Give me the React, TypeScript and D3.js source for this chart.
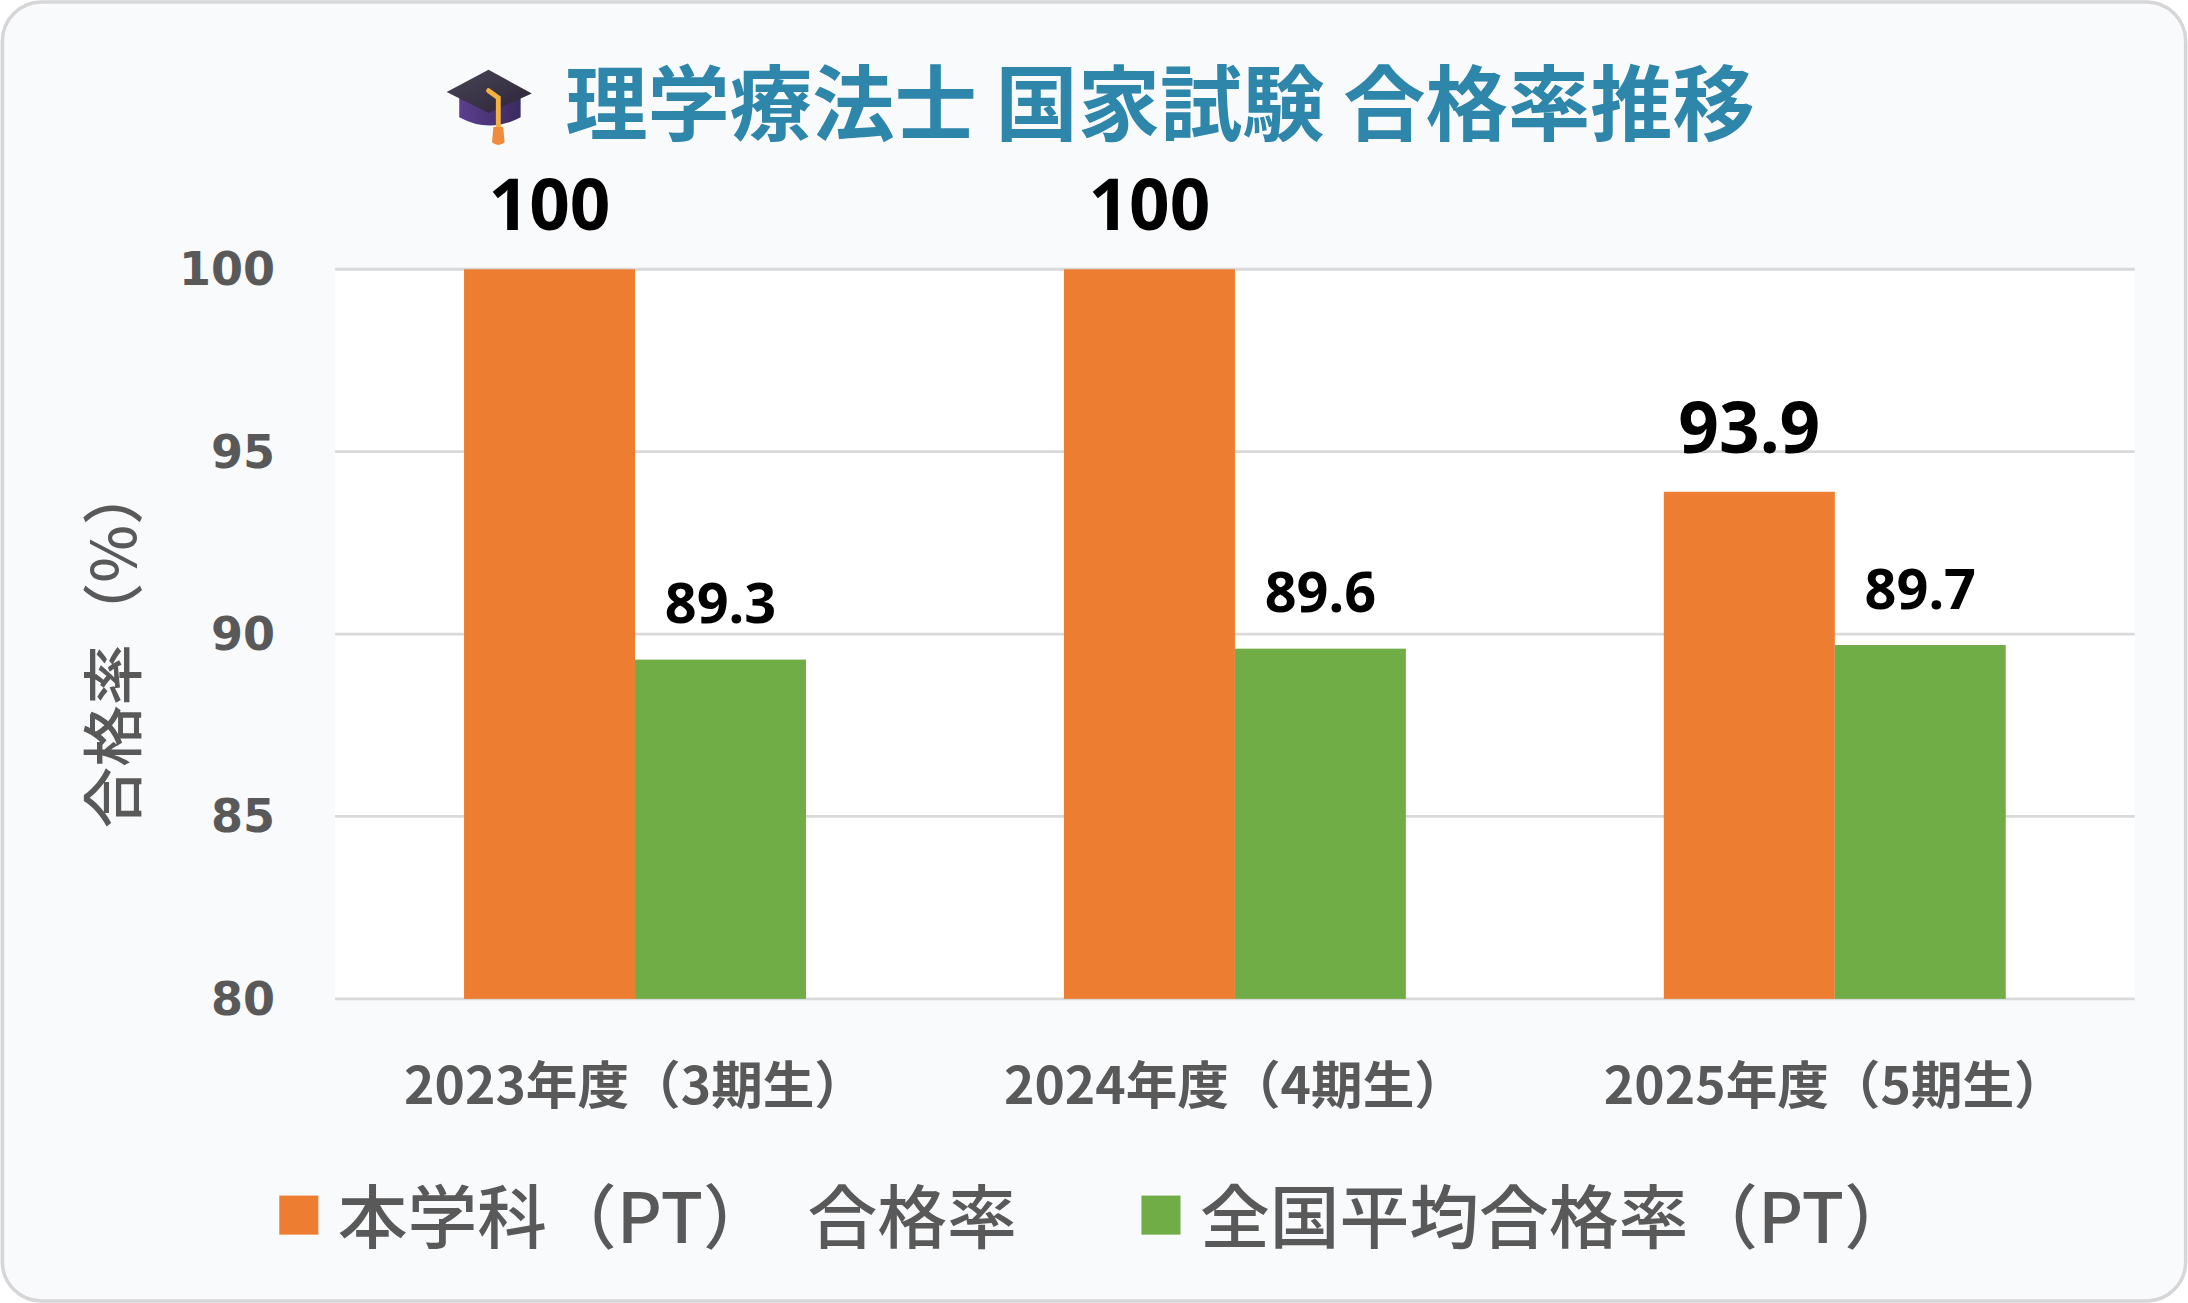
import React, { useEffect } from "react";
import * as d3 from "d3";

// chart data
const categories = ["2023年度（3期生）", "2024年度（4期生）", "2025年度（5期生）"];
const seriesNames = ["本学科（PT）　合格率", "全国平均合格率（PT）"];
const schoolRate = [100, 100, 93.9];
const nationalRate = [89.3, 89.6, 89.7];
const yTicks = [80, 85, 90, 95, 100];

const colors = ["#ED7D31", "#70AD47"];
const gray = "#595959";
const jp = "'Noto Sans CJK JP', 'Noto Sans', sans-serif";

// drawn in a 1568x934 space, shown at 2188x1303
const W = 1568;
const H = 934;
const plot = { left: 240, right: 1530, top: 193, bottom: 716 };

const GradCap: React.FC<{ x: number; y: number }> = ({ x, y }) => (
  <g transform={`translate(${x},${y})`}>
    <defs>
      <linearGradient id="capBase" x1="0" x2="1" y1="0" y2="0">
        <stop offset="0" stopColor="#5b3f8f" />
        <stop offset="1" stopColor="#3b2a60" />
      </linearGradient>
      <linearGradient id="capTop" x1="0" x2="1" y1="0" y2="1">
        <stop offset="0" stopColor="#4a4458" />
        <stop offset="1" stopColor="#2b2536" />
      </linearGradient>
    </defs>
    {/* skull part */}
    <path d="M9,18 L9,34 Q31,46 53,34 L53,18 Z" fill="url(#capBase)" />
    {/* board */}
    <path d="M0,16 L30,0 L61,17 L30,31 Z" fill="url(#capTop)" />
    {/* cord and tassel */}
    <path d="M30,15 L37,20 L37,42" stroke="#f5b042" strokeWidth={3.5} fill="none" strokeLinecap="round" />
    <path d="M33.5,41 L40.5,41 L41.5,52 Q37,56 32.5,52 Z" fill="#f08a3c" />
  </g>
);

export default function App() {
  useEffect(() => {
    document.body.style.margin = "0";
  }, []);

  const y = d3.scaleLinear().domain([80, 100]).range([plot.bottom, plot.top]);
  const x0 = d3.scaleBand<string>().domain(categories).range([plot.left, plot.right]).padding(0);
  const bw = x0.bandwidth();
  const x1 = d3
    .scaleBand<number>()
    .domain([0, 1])
    .range([bw * 0.215, bw * 0.785])
    .padding(0);

  const series = [schoolRate, nationalRate];

  return (
    <svg width={2188} height={1303} viewBox={`0 0 ${W} ${H}`} style={{ display: "block" }}>
      {/* card */}
      <rect x={1.5} y={1.5} width={W - 3} height={H - 3} rx={28} fill="#f9fafc" stroke="#d6d6d9" strokeWidth={2.5} />

      {/* title */}
      <GradCap x={320} y={50} />
      <text x={405} y={96} fontFamily={jp} fontWeight={700} fontSize={59} fill="#2E86AB">
        理学療法士 国家試験 合格率推移
      </text>

      {/* plot area */}
      <rect x={plot.left} y={plot.top} width={plot.right - plot.left} height={plot.bottom - plot.top} fill="#ffffff" />

      {/* grid + y ticks */}
      {yTicks.map((t) => (
        <g key={t}>
          <line x1={plot.left} x2={plot.right} y1={y(t)} y2={y(t)} stroke="#d9d9d9" strokeWidth={2} />
          <text
            x={197}
            y={y(t)}
            textAnchor="end"
            dominantBaseline="central"
            fontFamily="'DejaVu Sans', sans-serif"
            fontWeight={700}
            fontSize={33}
            fill={gray}
          >
            {t}
          </text>
        </g>
      ))}

      {/* y title */}
      <text
        transform={`translate(78,463) rotate(-90)`}
        textAnchor="middle"
        dominantBaseline="central"
        fontFamily={jp}
        fontWeight={500}
        fontSize={44}
        fill={gray}
      >
        合格率（%）
      </text>

      {/* bars */}
      {categories.map((c, i) => (
        <g key={c} transform={`translate(${x0(c)},0)`}>
          {series.map((s, j) => {
            const bx = x1(j) as number;
            const top = y(s[i]);
            return (
              <g key={j}>
                <rect x={bx} y={top} width={x1.bandwidth()} height={plot.bottom - top} fill={colors[j]} />
                <text
                  x={bx + x1.bandwidth() / 2}
                  y={top - (j === 0 ? 28 : 26)}
                  textAnchor="middle"
                  fontFamily="'Noto Sans', sans-serif"
                  fontWeight={700}
                  fontSize={j === 0 ? 51 : 40}
                  fill="#000000"
                >
                  {s[i]}
                </text>
              </g>
            );
          })}
          <text
            x={bw / 2}
            y={775}
            textAnchor="middle"
            dominantBaseline="central"
            fontFamily={jp}
            fontWeight={700}
            fontSize={37}
            fill={gray}
          >
            {c}
          </text>
        </g>
      ))}

      {/* legend */}
      {seriesNames.map((n, j) => {
        const lx = j === 0 ? 200 : 818;
        return (
          <g key={n}>
            <rect x={lx} y={857} width={28} height={28} fill={colors[j]} />
            <text x={lx + 42} y={869} dominantBaseline="central" fontFamily={jp} fontWeight={500} fontSize={50} fill={gray}>
              {n}
            </text>
          </g>
        );
      })}
    </svg>
  );
}
